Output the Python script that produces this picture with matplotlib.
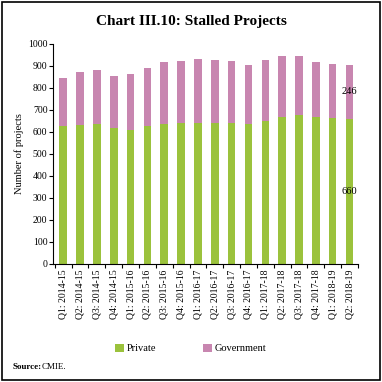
import matplotlib

matplotlib.use("Agg")

import matplotlib.pyplot as plt
import numpy as np
from matplotlib.patches import Rectangle

quarters = [
    "Q1: 2014-15", "Q2: 2014-15", "Q3: 2014-15", "Q4: 2014-15",
    "Q1: 2015-16", "Q2: 2015-16", "Q3: 2015-16", "Q4: 2015-16",
    "Q1: 2016-17", "Q2: 2016-17", "Q3: 2016-17", "Q4: 2016-17",
    "Q1: 2017-18", "Q2: 2017-18", "Q3: 2017-18", "Q4: 2017-18",
    "Q1: 2018-19", "Q2: 2018-19",
]
private = [625, 631, 637, 619, 607, 625, 637, 642, 640, 640, 640, 635, 648, 668, 675, 668, 663, 660]
government = [218, 241, 246, 235, 255, 264, 281, 280, 293, 289, 281, 271, 279, 277, 270, 248, 244, 246]

GREEN = "#9bc23c"
PINK = "#c886b0"

plt.rcParams["font.family"] = ["Liberation Serif", "DejaVu Serif"]

fig = plt.figure(figsize=(3.82, 3.82), dpi=100)
fig.patches.append(Rectangle((0.006, 0.006), 0.988, 0.988, transform=fig.transFigure,
                             fill=False, edgecolor="black", linewidth=1.2))

fig.text(0.5, 0.945, "Chart III.10: Stalled Projects", ha="center", va="center",
         fontsize=11, fontweight="bold")

ax = fig.add_axes([0.139, 0.309, 0.798, 0.576])
x = np.arange(len(quarters))
ax.bar(x, private, width=0.45, color=GREEN, label="Private")
ax.bar(x, government, width=0.45, bottom=private, color=PINK, label="Government")

# only the latest quarter carries value labels
last = len(quarters) - 1
ax.text(x[last], private[last] / 2, str(private[last]), ha="center", va="center", fontsize=7.5)
ax.text(x[last], private[last] + government[last] / 2, str(government[last]),
        ha="center", va="center", fontsize=7.5)

ax.set_xlim(-0.6, 17.5)
ax.set_ylim(0, 1000)
ax.set_yticks(np.arange(0, 1001, 100))
ax.tick_params(axis="y", labelsize=7, length=3, width=0.8, pad=1)
ax.set_xticks(x, labels=quarters, rotation=90, fontsize=7)
ax.set_xticks(np.arange(-0.5, len(quarters)), minor=True)
ax.tick_params(axis="x", which="major", length=0, pad=4)
ax.tick_params(axis="x", which="minor", length=3, width=0.8)
ax.spines[["top", "right"]].set_visible(False)
ax.spines[["left", "bottom"]].set_linewidth(0.8)
ax.set_ylabel("Number of projects", fontsize=7.5, labelpad=3)

fig.legend(loc="center", bbox_to_anchor=(0.5, 0.088), ncol=2, frameon=False,
           fontsize=7.5, handlelength=0.8, handleheight=0.8, columnspacing=4.5,
           handletextpad=0.3)

fig.text(0.033, 0.04, "Source:", fontsize=6.5, fontweight="bold", va="center")
fig.text(0.110, 0.04, "CMIE.", fontsize=6.5, va="center")

fig.savefig("out.png", dpi=100)
